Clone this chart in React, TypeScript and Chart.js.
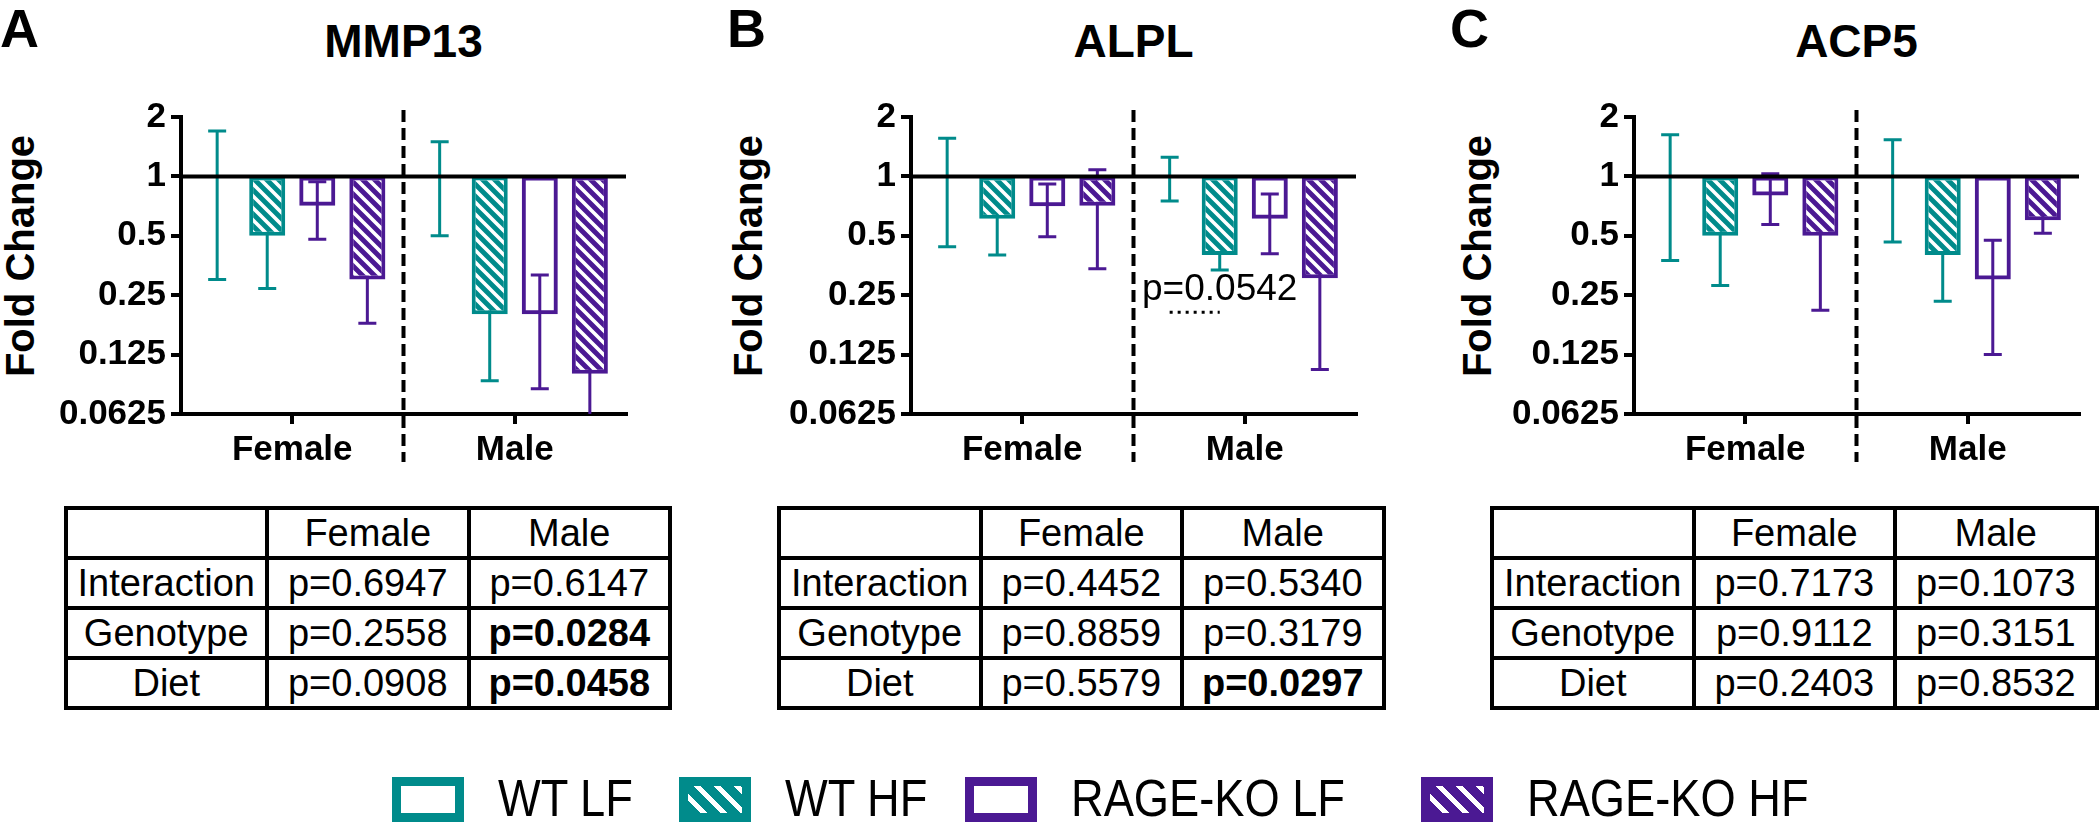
import React, { useEffect, useRef } from 'react';
import { Chart, registerables } from 'chart.js';

Chart.register(...registerables);

const FONT = "'Liberation Sans', Arial, Helvetica, sans-serif";
const TEAL = '#008B8B';
const PURPLE = '#4B1993';

// ---------- categories / series ----------
const sexes = ['Female', 'Male'];
const groups = ['WT LF', 'WT HF', 'RAGE-KO LF', 'RAGE-KO HF'];
const groupColors = [TEAL, TEAL, PURPLE, PURPLE];
const groupHatched = [false, true, false, true];

const yTickValues = [0.0625, 0.125, 0.25, 0.5, 1, 2];
const yTickLabels = ['0.0625', '0.125', '0.25', '0.5', '1', '2'];

// MMP13 : mean fold change [Female, Male] and error (SEM)
const mmp13WtLf = [1, 1];
const mmp13WtHf = [0.5, 0.2];
const mmp13KoLf = [0.71, 0.2];
const mmp13KoHf = [0.3, 0.1];
const mmp13WtLfErr = [0.7, 0.5];
const mmp13WtHfErr = [0.23, 0.108];
const mmp13KoLfErr = [0.23, 0.116];
const mmp13KoHfErr = [0.12, 0.07];

// ALPL
const alplWtLf = [1, 1];
const alplWtHf = [0.61, 0.4];
const alplKoLf = [0.705, 0.61];
const alplKoHf = [0.71, 0.305];
const alplWtLfErr = [0.56, 0.25];
const alplWtHfErr = [0.21, 0.065];
const alplKoLfErr = [0.21, 0.205];
const alplKoHfErr = [0.37, 0.2];

// ACP5
const acp5WtLf = [1, 1];
const acp5WtHf = [0.5, 0.4];
const acp5KoLf = [0.8, 0.3];
const acp5KoHf = [0.5, 0.6];
const acp5WtLfErr = [0.625, 0.535];
const acp5WtHfErr = [0.22, 0.167];
const acp5KoLfErr = [0.23, 0.175];
const acp5KoHfErr = [0.29, 0.085];

// two-way ANOVA p values [Interaction, Genotype, Diet]
const statRows = ['Interaction', 'Genotype', 'Diet'];
const mmp13PFemale = [0.6947, 0.2558, 0.0908];
const mmp13PMale = [0.6147, 0.0284, 0.0458];
const alplPFemale = [0.4452, 0.8859, 0.5579];
const alplPMale = [0.534, 0.3179, 0.0297];
const acp5PFemale = [0.7173, 0.9112, 0.2403];
const acp5PMale = [0.1073, 0.3151, 0.8532];

const alplNoteText = 'p=0.0542';
const alplNoteLevel = 0.205;

// ---------- layout ----------
const PLOT_W = 445;
const PLOT_TOP = 117;
const PLOT_BOTTOM = 414;
const Y_SCALE_W = 140;
const X_SCALE_H = 60;
const CANVAS_TOP = 80;
const PAD_R = 10;
const CANVAS_W = Y_SCALE_W + PLOT_W + PAD_R;
const CANVAS_H = PLOT_BOTTOM - CANVAS_TOP + X_SCALE_H;

const PANELS = [
  {
    letter: 'A', letterX: 0, title: 'MMP13', axisX: 181, foldX: 19.5, tableX: 65.5,
    means: [mmp13WtLf, mmp13WtHf, mmp13KoLf, mmp13KoHf],
    errs: [mmp13WtLfErr, mmp13WtHfErr, mmp13KoLfErr, mmp13KoHfErr],
    pF: mmp13PFemale, pM: mmp13PMale, note: null as any,
  },
  {
    letter: 'B', letterX: 727, title: 'ALPL', axisX: 911, foldX: 748, tableX: 779,
    means: [alplWtLf, alplWtHf, alplKoLf, alplKoHf],
    errs: [alplWtLfErr, alplWtHfErr, alplKoLfErr, alplKoHfErr],
    pF: alplPFemale, pM: alplPMale, note: { text: alplNoteText, level: alplNoteLevel } as any,
  },
  {
    letter: 'C', letterX: 1450, title: 'ACP5', axisX: 1634, foldX: 1477, tableX: 1492,
    means: [acp5WtLf, acp5WtHf, acp5KoLf, acp5KoHf],
    errs: [acp5WtLfErr, acp5WtHfErr, acp5KoLfErr, acp5KoHfErr],
    pF: acp5PFemale, pM: acp5PMale, note: null as any,
  },
];

function makeHatch(ctx: CanvasRenderingContext2D, color: string) {
  const s = 12;
  const c = document.createElement('canvas');
  c.width = s;
  c.height = s;
  const g = c.getContext('2d')!;
  g.fillStyle = color;
  g.fillRect(0, 0, s, s);
  g.strokeStyle = '#ffffff';
  g.lineWidth = 3.6;
  g.beginPath();
  for (const k of [-1, 0, 1]) {
    g.moveTo(k * s - 2, -2);
    g.lineTo(k * s + s + 2, s + 2);
  }
  g.stroke();
  return ctx.createPattern(c, 'repeat');
}

const overlayPlugin = {
  id: 'overlay',
  beforeDatasetsDraw(chart: any) {
    const ctx = chart.ctx;
    const ys = chart.scales.y;
    const area = chart.chartArea;
    chart.data.datasets.forEach((ds: any, di: number) => {
      const meta = chart.getDatasetMeta(di);
      meta.data.forEach((bar: any, i: number) => {
        const m = ds.means[i];
        const e = ds.errors[i];
        const x = bar.x;
        const yTop = ys.getPixelForValue(m + e);
        const low = m - e;
        const hasLow = low > ys.min;
        const yBot = hasLow ? ys.getPixelForValue(low) : area.bottom;
        ctx.save();
        ctx.strokeStyle = ds.borderColor;
        ctx.lineWidth = 3;
        ctx.beginPath();
        ctx.moveTo(x, yTop);
        ctx.lineTo(x, yBot);
        ctx.moveTo(x - 9, yTop);
        ctx.lineTo(x + 9, yTop);
        if (hasLow) {
          ctx.moveTo(x - 9, yBot);
          ctx.lineTo(x + 9, yBot);
        }
        ctx.stroke();
        ctx.restore();
      });
    });
  },
  afterDatasetsDraw(chart: any) {
    const ctx = chart.ctx;
    const ys = chart.scales.y;
    const area = chart.chartArea;
    const y1 = ys.getPixelForValue(1);
    ctx.save();
    ctx.strokeStyle = '#000';
    ctx.lineWidth = 4;
    ctx.beginPath();
    ctx.moveTo(area.left, y1);
    ctx.lineTo(area.right, y1);
    ctx.stroke();
    ctx.restore();
  },
  afterDraw(chart: any, _args: any, opts: any) {
    const ctx = chart.ctx;
    const xs = chart.scales.x;
    const ys = chart.scales.y;
    const area = chart.chartArea;
    const mid = (xs.getPixelForValue(0) + xs.getPixelForValue(1)) / 2;
    ctx.save();
    ctx.strokeStyle = '#000';
    ctx.lineWidth = 4;
    ctx.setLineDash([12, 6]);
    ctx.beginPath();
    ctx.moveTo(mid, area.top - 7);
    ctx.lineTo(mid, area.bottom + 48);
    ctx.stroke();
    ctx.restore();

    const note = opts && opts.note;
    if (note) {
      const x0 = chart.getDatasetMeta(0).data[1].x;
      const x1 = chart.getDatasetMeta(1).data[1].x;
      const yl = ys.getPixelForValue(note.level);
      ctx.save();
      ctx.strokeStyle = '#000';
      ctx.lineWidth = 3;
      ctx.setLineDash([3, 5]);
      ctx.beginPath();
      ctx.moveTo(x0, yl);
      ctx.lineTo(x1, yl);
      ctx.stroke();
      ctx.setLineDash([]);
      ctx.fillStyle = '#000';
      ctx.font = `37px ${FONT}`;
      ctx.textAlign = 'center';
      ctx.textBaseline = 'alphabetic';
      ctx.fillText(note.text, x1, yl - 12);
      ctx.restore();
    }
  },
};

function PanelChart({ p }: { p: any }) {
  const ref = useRef<HTMLCanvasElement>(null);
  useEffect(() => {
    const canvas = ref.current!;
    const ctx = canvas.getContext('2d')!;
    const datasets = groups.map((g, gi) => ({
      label: g,
      data: p.means[gi].map((v: number) => [v, 1]),
      means: p.means[gi],
      errors: p.errs[gi],
      backgroundColor: groupHatched[gi] ? makeHatch(ctx, groupColors[gi]) : 'rgba(255,255,255,0)',
      borderColor: groupColors[gi],
      borderWidth: 4,
      borderSkipped: false,
      categoryPercentage: 0.9,
      barPercentage: 0.72,
    }));
    const tickFont = { family: FONT, size: 35, weight: 'bold' as const };
    const chart = new Chart(canvas, {
      type: 'bar',
      data: { labels: sexes, datasets: datasets as any },
      plugins: [overlayPlugin as any],
      options: {
        animation: false,
        responsive: false,
        maintainAspectRatio: false,
        devicePixelRatio: 1,
        events: [],
        layout: { padding: { top: PLOT_TOP - CANVAS_TOP, right: PAD_R, left: 0, bottom: 0 } },
        plugins: {
          legend: { display: false },
          tooltip: { enabled: false },
          title: { display: false },
          overlay: { note: p.note },
        } as any,
        scales: {
          x: {
            type: 'category',
            offset: true,
            grid: {
              display: true, drawOnChartArea: false, drawTicks: true, tickLength: 10,
              lineWidth: 4, color: '#000', offset: false,
            },
            border: { display: true, width: 4, color: '#000' },
            ticks: { font: tickFont, color: '#000', padding: 5, maxRotation: 0, autoSkip: false },
            afterFit: (s: any) => { s.height = X_SCALE_H; },
          },
          y: {
            type: 'logarithmic',
            min: yTickValues[0],
            max: yTickValues[yTickValues.length - 1],
            grid: {
              display: true, drawOnChartArea: false, drawTicks: true, tickLength: 10,
              lineWidth: 4, color: '#000',
            },
            border: { display: true, width: 4, color: '#000' },
            ticks: {
              font: tickFont, color: '#000', padding: 5, autoSkip: false,
              callback: (v: any) => {
                const i = yTickValues.indexOf(Number(v));
                return i >= 0 ? yTickLabels[i] : '';
              },
            },
            afterBuildTicks: (s: any) => { s.ticks = yTickValues.map((v) => ({ value: v })); },
            afterFit: (s: any) => { s.width = Y_SCALE_W; },
          },
        } as any,
      },
    });
    return () => chart.destroy();
  }, []);
  return (
    <canvas
      ref={ref}
      width={CANVAS_W}
      height={CANVAS_H}
      style={{ position: 'absolute', left: p.axisX - Y_SCALE_W, top: CANVAS_TOP, width: CANVAS_W, height: CANVAS_H, display: 'block' }}
    />
  );
}

function Txt({ x, y, size, bold = false, align = 'left', scaleX = 1, children }: any) {
  const tx = align === 'center' ? '-50%' : align === 'right' ? '-100%' : '0';
  return (
    <div
      style={{
        position: 'absolute', left: x, top: y - 0.8465 * size, fontFamily: FONT, fontSize: size,
        lineHeight: `${size}px`, fontWeight: bold ? 700 : 400, whiteSpace: 'nowrap', color: '#000',
        transform: `translateX(${tx}) scaleX(${scaleX})`,
        transformOrigin: align === 'left' ? 'left center' : 'center center',
      }}
    >
      {children}
    </div>
  );
}

function StatTable({ left, top, pF, pM }: any) {
  const colW = 201.5;
  const rowH = 50;
  const lw = 4;
  const size = 38;
  const items: any[] = [];
  for (let i = 0; i <= 4; i++) {
    items.push(<div key={'h' + i} style={{ position: 'absolute', left: left - lw / 2, top: top + i * rowH - lw / 2, width: 3 * colW + lw, height: lw, background: '#000' }} />);
  }
  for (let j = 0; j <= 3; j++) {
    items.push(<div key={'v' + j} style={{ position: 'absolute', left: left + j * colW - lw / 2, top: top - lw / 2, width: lw, height: 4 * rowH + lw, background: '#000' }} />);
  }
  const base = (r: number) => top + (r + 0.5) * rowH + 0.716 * size / 2;
  const cx = (c: number) => left + (c + 0.5) * colW;
  items.push(<Txt key="hf" x={cx(1)} y={base(0)} size={size} align="center">{sexes[0]}</Txt>);
  items.push(<Txt key="hm" x={cx(2)} y={base(0)} size={size} align="center">{sexes[1]}</Txt>);
  statRows.forEach((name, r) => {
    items.push(<Txt key={'n' + r} x={cx(0)} y={base(r + 1)} size={size} align="center">{name}</Txt>);
    items.push(<Txt key={'f' + r} x={cx(1)} y={base(r + 1)} size={size} align="center" bold={pF[r] < 0.05}>{'p=' + pF[r].toFixed(4)}</Txt>);
    items.push(<Txt key={'m' + r} x={cx(2)} y={base(r + 1)} size={size} align="center" bold={pM[r] < 0.05}>{'p=' + pM[r].toFixed(4)}</Txt>);
  });
  return <>{items}</>;
}

const LEGEND_BOX_X = [392, 679, 965, 1421];

function Legend() {
  return (
    <>
      {groups.map((g, gi) => {
        const c = groupColors[gi];
        const bg = groupHatched[gi]
          ? `repeating-linear-gradient(45deg, ${c} 0px, ${c} 9px, #ffffff 9px, #ffffff 14px)`
          : '#ffffff';
        return (
          <React.Fragment key={g}>
            <div style={{ position: 'absolute', left: LEGEND_BOX_X[gi], top: 777, width: 72, height: 45, boxSizing: 'border-box', border: `9px solid ${c}`, background: bg }} />
            <Txt x={LEGEND_BOX_X[gi] + 106} y={816} size={52} scaleX={0.87}>{g}</Txt>
          </React.Fragment>
        );
      })}
    </>
  );
}

export default function App() {
  return (
    <div style={{ position: 'absolute', left: 0, top: 0, width: 2100, height: 824, background: '#fff', overflow: 'hidden', fontFamily: FONT }}>
      {PANELS.map((p) => (
        <React.Fragment key={p.letter}>
          <Txt x={p.letterX} y={47} size={54} bold>{p.letter}</Txt>
          <Txt x={p.axisX + PLOT_W / 2} y={57} size={46} bold align="center">{p.title}</Txt>
          <div
            style={{
              position: 'absolute', left: p.foldX, top: 256, fontFamily: FONT, fontSize: 40, lineHeight: '40px',
              fontWeight: 700, whiteSpace: 'nowrap', transform: 'translate(-50%, -50%) rotate(-90deg)', color: '#000',
            }}
          >
            Fold Change
          </div>
          <PanelChart p={p} />
          <StatTable left={p.tableX} top={507.7} pF={p.pF} pM={p.pM} />
        </React.Fragment>
      ))}
      <Legend />
    </div>
  );
}
